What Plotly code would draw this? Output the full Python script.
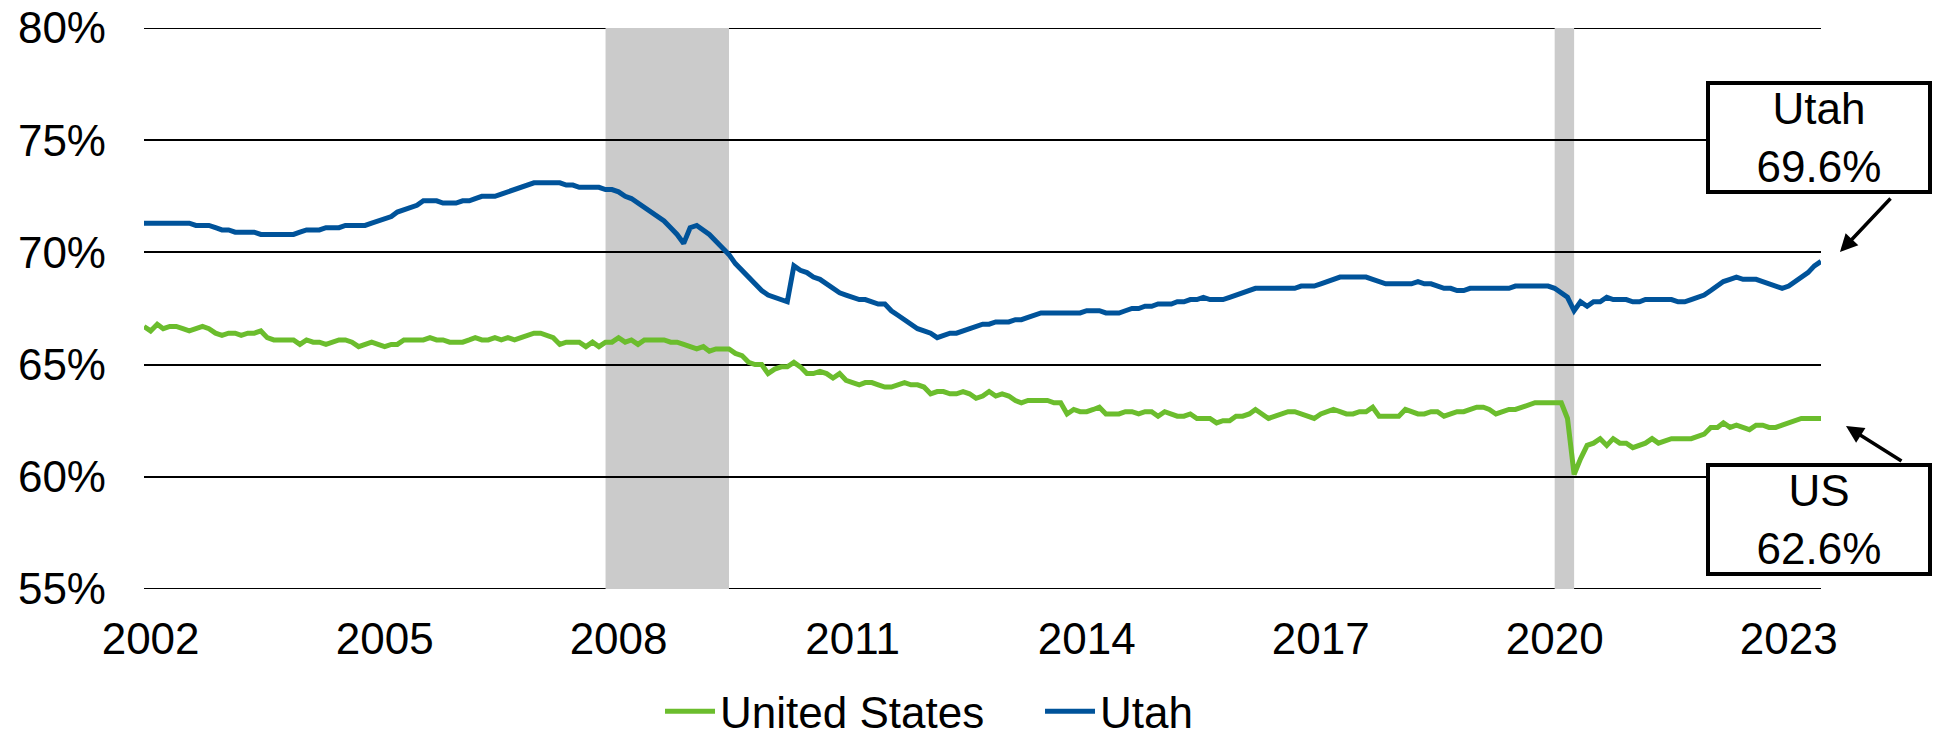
import pandas as pd
import plotly.graph_objects as go

# Monthly labor force participation rate (%), Dec 2001 - Jun 2023
dates = pd.date_range("2001-12-01", periods=259, freq="MS")

us_rate = [
    66.7,
    66.5, 66.8, 66.6, 66.7, 66.7, 66.6, 66.5, 66.6, 66.7, 66.6, 66.4, 66.3,  # 2002
    66.4, 66.4, 66.3, 66.4, 66.4, 66.5, 66.2, 66.1, 66.1, 66.1, 66.1, 65.9,  # 2003
    66.1, 66.0, 66.0, 65.9, 66.0, 66.1, 66.1, 66.0, 65.8, 65.9, 66.0, 65.9,  # 2004
    65.8, 65.9, 65.9, 66.1, 66.1, 66.1, 66.1, 66.2, 66.1, 66.1, 66.0, 66.0,  # 2005
    66.0, 66.1, 66.2, 66.1, 66.1, 66.2, 66.1, 66.2, 66.1, 66.2, 66.3, 66.4,  # 2006
    66.4, 66.3, 66.2, 65.9, 66.0, 66.0, 66.0, 65.8, 66.0, 65.8, 66.0, 66.0,  # 2007
    66.2, 66.0, 66.1, 65.9, 66.1, 66.1, 66.1, 66.1, 66.0, 66.0, 65.9, 65.8,  # 2008
    65.7, 65.8, 65.6, 65.7, 65.7, 65.7, 65.5, 65.4, 65.1, 65.0, 65.0, 64.6,  # 2009
    64.8, 64.9, 64.9, 65.1, 64.9, 64.6, 64.6, 64.7, 64.6, 64.4, 64.6, 64.3,  # 2010
    64.2, 64.1, 64.2, 64.2, 64.1, 64.0, 64.0, 64.1, 64.2, 64.1, 64.1, 64.0,  # 2011
    63.7, 63.8, 63.8, 63.7, 63.7, 63.8, 63.7, 63.5, 63.6, 63.8, 63.6, 63.7,  # 2012
    63.6, 63.4, 63.3, 63.4, 63.4, 63.4, 63.4, 63.3, 63.3, 62.8, 63.0, 62.9,  # 2013
    62.9, 63.0, 63.1, 62.8, 62.8, 62.8, 62.9, 62.9, 62.8, 62.9, 62.9, 62.7,  # 2014
    62.9, 62.8, 62.7, 62.7, 62.8, 62.6, 62.6, 62.6, 62.4, 62.5, 62.5, 62.7,  # 2015
    62.7, 62.8, 63.0, 62.8, 62.6, 62.7, 62.8, 62.9, 62.9, 62.8, 62.7, 62.6,  # 2016
    62.8, 62.9, 63.0, 62.9, 62.8, 62.8, 62.9, 62.9, 63.1, 62.7, 62.7, 62.7,  # 2017
    62.7, 63.0, 62.9, 62.8, 62.8, 62.9, 62.9, 62.7, 62.8, 62.9, 62.9, 63.0,  # 2018
    63.1, 63.1, 63.0, 62.8, 62.9, 63.0, 63.0, 63.1, 63.2, 63.3, 63.3, 63.3,  # 2019
    63.3, 63.3, 62.6, 60.1, 60.8, 61.4, 61.5, 61.7, 61.4, 61.7, 61.5, 61.5,  # 2020
    61.3, 61.4, 61.5, 61.7, 61.5, 61.6, 61.7, 61.7, 61.7, 61.7, 61.8, 61.9,  # 2021
    62.2, 62.2, 62.4, 62.2, 62.3, 62.2, 62.1, 62.3, 62.3, 62.2, 62.2, 62.3,  # 2022
    62.4, 62.5, 62.6, 62.6, 62.6, 62.6,                                      # 2023
]

utah_rate = [
    71.3,
    71.3, 71.3, 71.3, 71.3, 71.3, 71.3, 71.3, 71.2, 71.2, 71.2, 71.1, 71.0,  # 2002
    71.0, 70.9, 70.9, 70.9, 70.9, 70.8, 70.8, 70.8, 70.8, 70.8, 70.8, 70.9,  # 2003
    71.0, 71.0, 71.0, 71.1, 71.1, 71.1, 71.2, 71.2, 71.2, 71.2, 71.3, 71.4,  # 2004
    71.5, 71.6, 71.8, 71.9, 72.0, 72.1, 72.3, 72.3, 72.3, 72.2, 72.2, 72.2,  # 2005
    72.3, 72.3, 72.4, 72.5, 72.5, 72.5, 72.6, 72.7, 72.8, 72.9, 73.0, 73.1,  # 2006
    73.1, 73.1, 73.1, 73.1, 73.0, 73.0, 72.9, 72.9, 72.9, 72.9, 72.8, 72.8,  # 2007
    72.7, 72.5, 72.4, 72.2, 72.0, 71.8, 71.6, 71.4, 71.1, 70.8, 70.4, 71.1,  # 2008
    71.2, 71.0, 70.8, 70.5, 70.2, 69.9, 69.5, 69.2, 68.9, 68.6, 68.3, 68.1,  # 2009
    68.0, 67.9, 67.8, 69.4, 69.2, 69.1, 68.9, 68.8, 68.6, 68.4, 68.2, 68.1,  # 2010
    68.0, 67.9, 67.9, 67.8, 67.7, 67.7, 67.4, 67.2, 67.0, 66.8, 66.6, 66.5,  # 2011
    66.4, 66.2, 66.3, 66.4, 66.4, 66.5, 66.6, 66.7, 66.8, 66.8, 66.9, 66.9,  # 2012
    66.9, 67.0, 67.0, 67.1, 67.2, 67.3, 67.3, 67.3, 67.3, 67.3, 67.3, 67.3,  # 2013
    67.4, 67.4, 67.4, 67.3, 67.3, 67.3, 67.4, 67.5, 67.5, 67.6, 67.6, 67.7,  # 2014
    67.7, 67.7, 67.8, 67.8, 67.9, 67.9, 68.0, 67.9, 67.9, 67.9, 68.0, 68.1,  # 2015
    68.2, 68.3, 68.4, 68.4, 68.4, 68.4, 68.4, 68.4, 68.4, 68.5, 68.5, 68.5,  # 2016
    68.6, 68.7, 68.8, 68.9, 68.9, 68.9, 68.9, 68.9, 68.8, 68.7, 68.6, 68.6,  # 2017
    68.6, 68.6, 68.6, 68.7, 68.6, 68.6, 68.5, 68.4, 68.4, 68.3, 68.3, 68.4,  # 2018
    68.4, 68.4, 68.4, 68.4, 68.4, 68.4, 68.5, 68.5, 68.5, 68.5, 68.5, 68.5,  # 2019
    68.4, 68.2, 68.0, 67.4, 67.8, 67.6, 67.8, 67.8, 68.0, 67.9, 67.9, 67.9,  # 2020
    67.8, 67.8, 67.9, 67.9, 67.9, 67.9, 67.9, 67.8, 67.8, 67.9, 68.0, 68.1,  # 2021
    68.3, 68.5, 68.7, 68.8, 68.9, 68.8, 68.8, 68.8, 68.7, 68.6, 68.5, 68.4,  # 2022
    68.5, 68.7, 68.9, 69.1, 69.4, 69.6,                                      # 2023
]

# Recession periods (shaded)
recessions = [("2007-11-01", "2009-06-01"), ("2020-01-01", "2020-04-01")]

tick_years = [2002, 2005, 2008, 2011, 2014, 2017, 2020, 2023]
y_ticks = [55, 60, 65, 70, 75, 80]

GREEN = "#6BBD2D"
BLUE = "#00539A"
FONT = "Liberation Sans, Arial, sans-serif"

fig = go.Figure()
fig.add_trace(go.Scatter(x=dates, y=us_rate, name="United States", mode="lines",
                         line=dict(color=GREEN, width=5)))
fig.add_trace(go.Scatter(x=dates, y=utah_rate, name="Utah", mode="lines",
                         line=dict(color=BLUE, width=5)))

for start, end in recessions:
    fig.add_shape(type="rect", xref="x", yref="y", x0=start, x1=end, y0=55, y1=80,
                  fillcolor="#CBCBCB", line_width=0, layer="below")

# Rules at the bottom and top of the value range (edge gridlines)
for edge in (y_ticks[0], y_ticks[-1]):
    fig.add_shape(type="line", xref="paper", yref="y", x0=0, x1=1, y0=edge, y1=edge,
                  line=dict(color="black", width=2), layer="below")

fig.update_layout(
    width=1935, height=739,
    margin=dict(l=144, r=114, t=28, b=150, autoexpand=False),
    plot_bgcolor="white", paper_bgcolor="white",
    font=dict(family=FONT, size=44, color="black"),
    showlegend=True,
    legend=dict(orientation="h", x=0.3077, xanchor="left", y=-0.2187, yanchor="middle",
                font=dict(size=44), itemwidth=50, entrywidth=315,
                traceorder="normal", bgcolor="rgba(0,0,0,0)"),
    xaxis=dict(type="date", range=["2001-12-01", "2023-06-01"],
               tickvals=[f"{y}-01-01" for y in tick_years],
               ticktext=[str(y) for y in tick_years],
               showgrid=False, zeroline=False, ticks="", showline=False,
               ticklabelstandoff=20),
    yaxis=dict(range=[55, 80], tickvals=y_ticks, ticktext=[f"{v}%" for v in y_ticks],
               showgrid=True, gridcolor="black", gridwidth=2, zeroline=False,
               showline=False, ticks="", ticklabelstandoff=37),
)

# Callout boxes with the latest values
def callout(label, value, xc, yc):
    fig.add_annotation(xref="paper", yref="paper", x=xc, y=yc, xanchor="center",
                       yanchor="middle", text=f"{label}<br>{value:.1f}%", showarrow=False,
                       font=dict(size=44, family=FONT, color="black"),
                       bgcolor="white", bordercolor="black", borderwidth=4,
                       borderpad=0, width=218, height=105)

def pointer(xh, yh, ax, ay):
    fig.add_annotation(xref="paper", yref="paper", x=xh, y=yh, text="", showarrow=True,
                       ax=ax, ay=ay, arrowhead=2, arrowsize=1, arrowwidth=3.5,
                       arrowcolor="black")

callout("Utah", utah_rate[-1], 0.9991, 0.8048)
callout("US", us_rate[-1], 0.9991, 0.1235)
pointer(1.0113, 0.6007, 52, -55)
pointer(1.0149, 0.2906, 57, 36)

fig.write_html("out.html")
